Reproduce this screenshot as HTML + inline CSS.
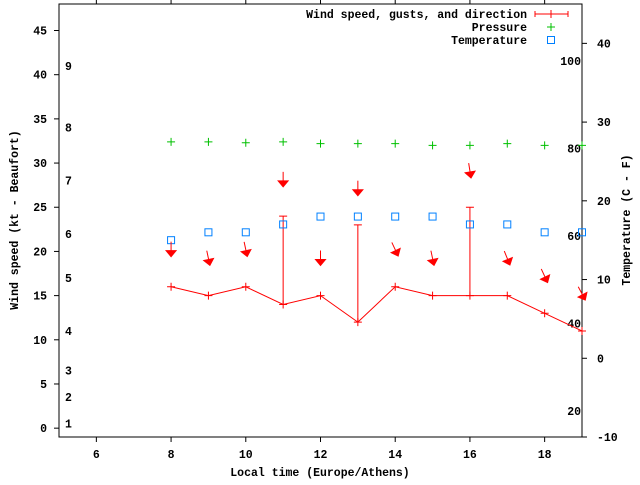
<!DOCTYPE html>
<html><head><meta charset="utf-8"><style>
body{margin:0;background:#fff}
svg text{font-family:"Liberation Mono",monospace;font-weight:bold;font-size:11.5px;fill:#000}
</style></head><body>
<svg id="chart" width="640" height="480" viewBox="0 0 640 480" xmlns="http://www.w3.org/2000/svg">
<g id="frame"></g><g id="marks"></g><g id="legend"></g>
</svg>
<script>
const hours=[8,9,10,11,12,13,14,15,16,17,18,19];
const windKt=[16,15,16,14,15,12,16,15,15,15,13,11];
const gustHours=[11,13,16];
const gustKt=[24,23,25];
const pressureKt=[32.4,32.4,32.3,32.4,32.2,32.2,32.2,32.0,32.0,32.2,32.0,32.0];
const tempC=[15,16,16,17,18,18,18,18,17,17,16,16];
const windDir=[0,348,348,0,0,0,335,348,351,338,335,332];
const arrowKt=[20.2,19.2,20.2,28.1,19.2,27.1,20.2,19.2,29.1,19.2,17.2,15.2];
const xTicks=[6,8,10,12,14,16,18];
const yTicks=[0,5,10,15,20,25,30,35,40,45];
const y2Ticks=[-10,0,10,20,30,40];
const fTicks=[20,40,60,80,100];
const bftLabels=["1","2","3","4","5","6","7","8","9"];
const bftKt=[0.5,3.5,6.5,11,17,22,28,34,41];

const L=59,R=582,T=4,B=437;
const X=h=>L+(h-5)*(R-L)/14;
const Y=k=>B-(k+1)*(B-T)/49;
const Y2=c=>B-(c+10)*(B-T)/55;
const NS="http://www.w3.org/2000/svg";
function mk(p,tag,at,txt){const e=document.createElementNS(NS,tag);for(const k in at)e.setAttribute(k,at[k]);if(txt!==undefined)e.textContent=txt;p.appendChild(e);return e;}
const F=document.getElementById('frame'),M=document.getElementById('marks'),G=document.getElementById('legend');

let e=mk(F,'rect',{x:L,y:T,width:R-L,height:B-T,fill:'none',stroke:'#000','stroke-width':1});


xTicks.forEach(t=>{
 mk(F,'line',{x1:X(t),x2:X(t),y1:B,y2:B+5,stroke:'#000'});
 mk(F,'line',{x1:X(t),x2:X(t),y1:T,y2:T-5,stroke:'#000'});
 e=mk(F,'text',{x:X(t),y:B+21,'text-anchor':'middle'},t);
 
 
});
yTicks.forEach(t=>{
 mk(F,'line',{x1:L-5,x2:L,y1:Y(t),y2:Y(t),stroke:'#000'});
 e=mk(F,'text',{x:L-12,y:Y(t)+4,'text-anchor':'end'},t);
 
 
});
y2Ticks.forEach(t=>{
 mk(F,'line',{x1:R,x2:R+5,y1:Y2(t),y2:Y2(t),stroke:'#000'});
 e=mk(F,'text',{x:R+15,y:Y2(t)+4},t);
 
 
});
fTicks.forEach(t=>{
 e=mk(F,'text',{x:R-1,y:Y2((t-32)/1.8)+4,'text-anchor':'end'},t);
 
 
});
bftLabels.forEach((t,i)=>{
 e=mk(F,'text',{x:65,y:Y(bftKt[i])+4},t);
 
 
});
e=mk(F,'text',{x:320,y:476,'text-anchor':'middle'},'Local time (Europe/Athens)');


e=mk(F,'text',{x:0,y:0,'text-anchor':'middle',transform:'translate(18,220) rotate(-90)'},'Wind speed (kt - Beaufort)');


e=mk(F,'text',{x:0,y:0,'text-anchor':'middle',transform:'translate(630,220) rotate(-90)'},'Temperature (C - F)');



// wind line
e=mk(M,'polyline',{points:hours.map((h,i)=>X(h)+','+Y(windKt[i])).join(' '),fill:'none',stroke:'#f00','stroke-width':1});


hours.forEach((h,i)=>{
 e=mk(M,'path',{d:`M${X(h)-4},${Y(windKt[i])}h8M${X(h)},${Y(windKt[i])-4}v8`,stroke:'#f00'});
 
 
});
gustHours.forEach((h,j)=>{
 const i=hours.indexOf(h);
 e=mk(M,'path',{d:`M${X(h)},${Y(windKt[i])}V${Y(gustKt[j])}M${X(h)-4},${Y(gustKt[j])}h8`,stroke:'#f00',fill:'none'});
 
 
});
hours.forEach((h,i)=>{
 e=mk(M,'path',{d:`M${X(h)-4},${Y(pressureKt[i])}h8M${X(h)},${Y(pressureKt[i])-4}v8`,stroke:'#00c000'});
 
 
 e=mk(M,'rect',{x:X(h)-3.5,y:Y2(tempC[i])-3.5,width:7,height:7,fill:'none',stroke:'#0080ff'});
 
 
 const cx=X(h),cy=Y(arrowKt[i]);
 e=mk(M,'g',{transform:`translate(${cx},${cy}) rotate(${windDir[i]})`});
 
 
 mk(e,'line',{x1:0,y1:-8,x2:0,y2:2,stroke:'#f00'});
 mk(e,'polygon',{points:'-5,1 5,1 0,7',fill:'#f00',stroke:'#f00'});
});

// legend
const leg=[['Wind speed, gusts, and direction',14],['Pressure',27],['Temperature',40]];
leg.forEach(l=>{
 e=mk(G,'text',{x:527,y:l[1]+4,'text-anchor':'end'},l[0]);
 
 
});
e=mk(G,'path',{d:'M535,14h33M535,11v6M568,11v6M551,10v8',stroke:'#f00',fill:'none'});


e=mk(G,'path',{d:'M547,27h8M551,23v8',stroke:'#00c000'});


e=mk(G,'rect',{x:547.5,y:36.5,width:7,height:7,fill:'none',stroke:'#0080ff'});


</script>
</body></html>
